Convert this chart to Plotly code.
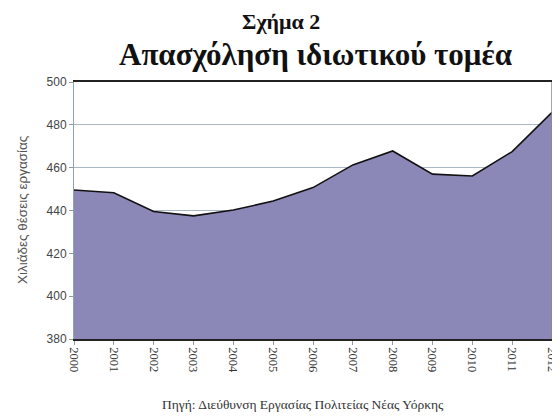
import plotly.graph_objects as go

years = [str(y) for y in range(2000, 2013)]
jobs = [449.6, 448.3, 439.5, 437.5, 440.2, 444.4, 450.7, 461.3, 467.8, 457.0, 456.1, 467.5, 485.8]

title_small = "Σχήμα 2"
title_main = "Απασχόληση ιδιωτικού τομέα"
y_title = "Χιλιάδες θέσεις εργασίας"
source = "Πηγή: Διεύθυνση Εργασίας Πολιτείας Νέας Υόρκης"

# page body has an 8px margin, so the figure is drawn 8px right/down
OFF = 8
W, H = 560 - OFF, 419 - OFF
L, R, T, B = 74 - OFF, 8, 82 - OFF, 80
PW, PH = W - L - R, H - T - B


def py(y):
    return (H - B - (y - OFF)) / PH


def px(x):
    return ((x - OFF) - L) / PW


fig = go.Figure()
fig.add_trace(go.Scatter(
    x=list(range(len(years))), y=jobs, mode="lines",
    fill="tozeroy", fillcolor="#8b88b8",
    line=dict(color="#111111", width=1.6),
    hoverinfo="skip", showlegend=False,
))

fig.update_layout(
    width=W, height=H,
    margin=dict(l=L, r=R, t=T, b=B, autoexpand=False),
    paper_bgcolor="white", plot_bgcolor="white",
    xaxis=dict(
        range=[0, 12], tickmode="array", tickvals=list(range(len(years))), ticktext=years,
        tickangle=90, tickfont=dict(family="Liberation Serif", size=12.5, color="#333333"),
        ticklabeloverflow="allow",
        showgrid=False, showline=True, linecolor="#222222", linewidth=1.5, mirror=True,
        ticks="outside", ticklen=4, tickcolor="#999999", zeroline=False, automargin=False,
    ),
    yaxis=dict(
        range=[380, 500], tickvals=[380, 400, 420, 440, 460, 480, 500],
        tickfont=dict(family="Liberation Sans", size=12, color="#444444"),
        showgrid=True, gridcolor="#aab8c6", gridwidth=1,
        showline=True, linecolor="#8fa3b5", linewidth=1, mirror=True,
        ticks="outside", ticklen=4, tickcolor="#999999", zeroline=False, automargin=False,
    ),
    annotations=[
        dict(text="<b>" + title_small + "</b>", x=px(281), xref="paper", y=py(22), yref="paper",
             yanchor="middle", showarrow=False,
             font=dict(family="Liberation Serif", size=22, color="#111111")),
        dict(text="<b>" + title_main + "</b>", x=px(315), xref="paper", y=py(55), yref="paper",
             yanchor="middle", showarrow=False,
             font=dict(family="Liberation Serif", size=31, color="#111111")),
        dict(text=source, x=px(303), xref="paper", y=py(404), yref="paper",
             yanchor="middle", showarrow=False,
             font=dict(family="Liberation Serif", size=13.5, color="#333333")),
        dict(text=y_title, x=px(22), xref="paper", y=py(210), yref="paper",
             xanchor="center", yanchor="middle", textangle=-90, showarrow=False,
             font=dict(family="Liberation Sans", size=13.5, color="#555555")),
    ],
    shapes=[dict(type="line", xref="paper", yref="paper", x0=1, x1=1, y0=0, y1=1,
                 line=dict(color="#888888", width=1.5))],
)

fig.write_html("out.html")
